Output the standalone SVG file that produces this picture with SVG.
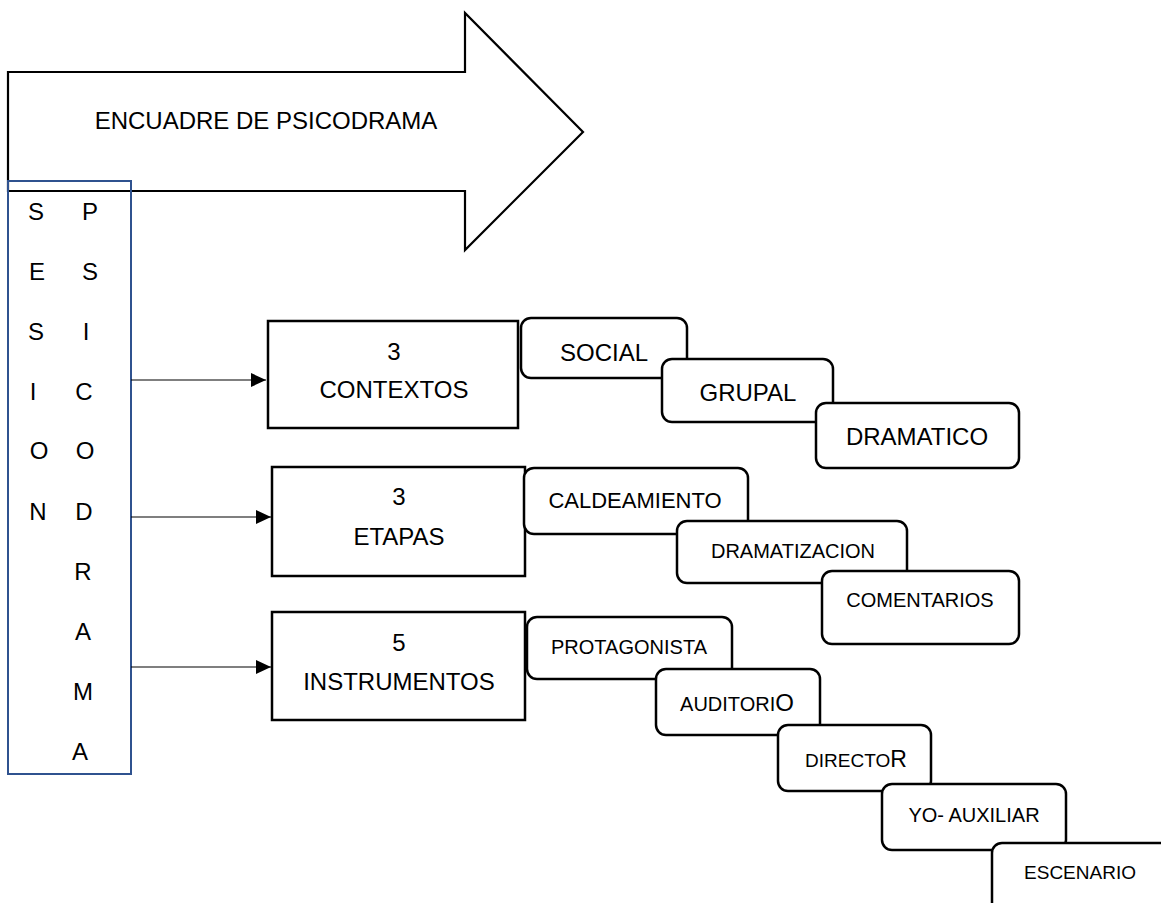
<svg xmlns="http://www.w3.org/2000/svg" width="1161" height="903" viewBox="0 0 1161 903">
<style>
text{font-family:"Liberation Sans",Arial,sans-serif;fill:#000}
.box{fill:#fff;stroke:#000;stroke-width:2.5}
.rbox{fill:#fff;stroke:#000;stroke-width:2.5}
.conn{stroke:#000;stroke-width:1.2;fill:none}
.c{text-anchor:middle}
.v{font-size:24px;text-anchor:middle}
</style>
<defs>
<marker id="ah" viewBox="0 0 15 14" refX="15" refY="7" markerWidth="15" markerHeight="14" markerUnits="userSpaceOnUse" orient="auto">
<path d="M0,0 L15,7 L0,14 Z" fill="#000"/>
</marker>
</defs>
<rect width="1161" height="903" fill="#fff"/>
<g id="encuadre">
<polygon points="8,72 465,72 465,13 583,132 465,250 465,191 8,191" fill="#fff" stroke="#000" stroke-width="2.2"/>
<text x="266" y="129" font-size="24" class="c">ENCUADRE DE PSICODRAMA</text>
</g>
<g id="sesion">
<rect x="8" y="181" width="123" height="593" fill="none" stroke="#2F528F" stroke-width="2"/>
<text class="v" x="36" y="220">S</text><text class="v" x="90" y="220">P</text>
<text class="v" x="37" y="280">E</text><text class="v" x="90" y="280">S</text>
<text class="v" x="36" y="340">S</text><text class="v" x="86" y="340">I</text>
<text class="v" x="33" y="400">I</text><text class="v" x="84" y="400">C</text>
<text class="v" x="39" y="459">O</text><text class="v" x="85" y="459">O</text>
<text class="v" x="38" y="520">N</text><text class="v" x="84" y="520">D</text>
<text class="v" x="83" y="580">R</text>
<text class="v" x="83" y="640">A</text>
<text class="v" x="83" y="700">M</text>
<text class="v" x="80" y="760">A</text>
</g>
<g id="connectors">
<line class="conn" x1="131" y1="380" x2="266" y2="380" marker-end="url(#ah)"/>
<line class="conn" x1="131" y1="517" x2="271" y2="517" marker-end="url(#ah)"/>
<line class="conn" x1="131" y1="667" x2="271" y2="667" marker-end="url(#ah)"/>
</g>
<g id="contextos">
<rect class="box" x="268" y="321" width="250" height="107"/>
<text x="394" y="360" font-size="24" class="c">3</text>
<text x="394" y="398" font-size="24" class="c">CONTEXTOS</text>
</g>
<g id="social">
<rect class="rbox" x="521" y="318" width="166" height="60" rx="10"/>
<text x="604" y="361" font-size="24" class="c">SOCIAL</text>
</g>
<g id="grupal">
<rect class="rbox" x="662" y="359" width="171" height="63" rx="10"/>
<text x="748" y="401" font-size="24" class="c">GRUPAL</text>
</g>
<g id="dramatico">
<rect class="rbox" x="816" y="403" width="203" height="65" rx="10"/>
<text x="917" y="445" font-size="24" class="c">DRAMATICO</text>
</g>
<g id="etapas">
<rect class="box" x="272" y="467" width="253" height="109"/>
<text x="399" y="505" font-size="24" class="c">3</text>
<text x="399" y="545" font-size="24" class="c">ETAPAS</text>
</g>
<g id="caldeamiento">
<rect class="rbox" x="524" y="468" width="224" height="66" rx="10"/>
<text x="635" y="508" font-size="22" class="c">CALDEAMIENTO</text>
</g>
<g id="dramatizacion">
<rect class="rbox" x="677" y="521" width="230" height="62" rx="10"/>
<text x="793" y="558" font-size="20" class="c">DRAMATIZACION</text>
</g>
<g id="comentarios">
<rect class="rbox" x="822" y="571" width="197" height="73" rx="10"/>
<text x="920" y="607" font-size="20" class="c">COMENTARIOS</text>
</g>
<g id="instrumentos">
<rect class="box" x="272" y="612" width="253" height="108"/>
<text x="399" y="651" font-size="24" class="c">5</text>
<text x="399" y="690" font-size="24" class="c">INSTRUMENTOS</text>
</g>
<g id="protagonista">
<rect class="rbox" x="527" y="617" width="205" height="62" rx="10"/>
<text x="629" y="654" font-size="20" class="c">PROTAGONISTA</text>
</g>
<g id="auditorio">
<rect class="rbox" x="656" y="669" width="164" height="66" rx="10"/>
<text x="737" y="711" font-size="20" class="c">AUDITORI<tspan font-size="24">O</tspan></text>
</g>
<g id="director">
<rect class="rbox" x="778" y="725" width="153" height="66" rx="10"/>
<text x="856" y="767" font-size="19" class="c">DIRECTO<tspan font-size="23">R</tspan></text>
</g>
<g id="yoauxiliar">
<rect class="rbox" x="882" y="784" width="184" height="66" rx="10"/>
<text x="974" y="822" font-size="20" class="c">YO- AUXILIAR</text>
</g>
<g id="escenario">
<rect class="rbox" x="992" y="843" width="200" height="90" rx="10"/>
<text x="1080" y="879" font-size="19" class="c">ESCENARIO</text>
</g>
</svg>
